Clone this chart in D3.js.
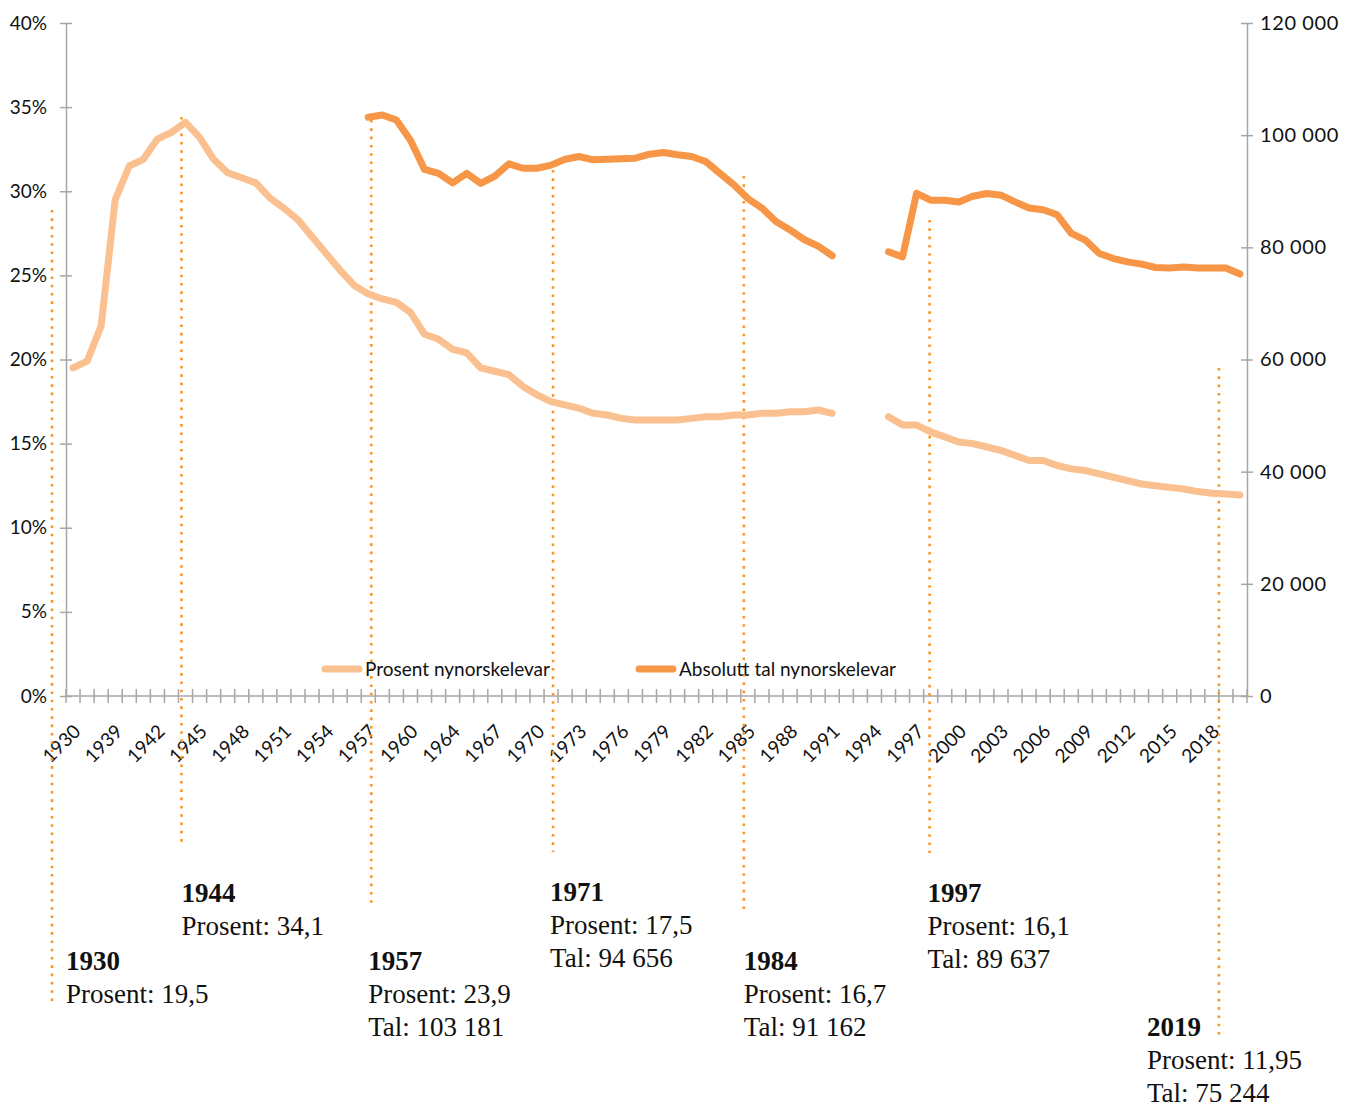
<!DOCTYPE html>
<html>
<head>
<meta charset="utf-8">
<script src="https://cdn.jsdelivr.net/npm/d3@7"></script>
<style>
  body { margin: 0; background: #fff; }
  .tick text { font-family: Lato, "Open Sans", sans-serif; }
</style>
</head>
<body>
<div class="chart"></div>
<script>
// categories on the x axis (only every 3rd is labelled)
var years = ["1930","1937","1938","1939","1940","1941","1942","1943","1944","1945",
  "1946","1947","1948","1949","1950","1951","1952","1953","1954","1955",
  "1956","1957","1958","1959","1960","1961","1963","1964","1965","1966",
  "1967","1968","1969","1970","1971","1972","1973","1974","1975","1976",
  "1977","1978","1979","1980","1981","1982","1983","1984","1985","1986",
  "1987","1988","1989","1990","1991","1992","1993","1994","1995","1996",
  "1997","1998","1999","2000","2001","2002","2003","2004","2005","2006",
  "2007","2008","2009","2010","2011","2012","2013","2014","2015","2016",
  "2017","2018","2019","2020"];

// Prosent nynorskelevar (%)
var prosent = [19.5,19.9,22.0,29.5,31.5,31.9,33.1,33.5,34.1,33.2,
  31.9,31.1,30.8,30.5,29.6,29.0,28.3,27.3,26.3,25.3,
  24.4,23.9,23.6,23.4,22.8,21.5,21.2,20.6,20.4,19.5,
  19.3,19.1,18.4,17.9,17.5,17.3,17.1,16.8,16.7,16.5,
  16.4,16.4,16.4,16.4,16.5,16.6,16.6,16.7,16.7,16.8,
  16.8,16.9,16.9,17.0,16.8,null,null,null,16.6,16.1,
  16.1,15.7,15.4,15.1,15.0,14.8,14.6,14.3,14.0,14.0,
  13.7,13.5,13.4,13.2,13.0,12.8,12.6,12.5,12.4,12.3,
  12.15,12.05,12.0,11.95];

// Absolutt tal nynorskelevar
var tal = [null,null,null,null,null,null,null,null,null,null,
  null,null,null,null,null,null,null,null,null,null,
  null,103181,103600,102700,99100,93900,93200,91500,93200,91400,
  92700,94900,94100,94100,94656,95700,96200,95600,95700,95800,
  95900,96600,96900,96500,96200,95300,93200,91162,88700,87000,
  84600,83100,81400,80200,78500,null,null,null,79200,78300,
  89637,88400,88400,88100,89100,89600,89300,88100,87000,86700,
  85800,82500,81300,78900,78000,77400,77000,76400,76300,76500,
  76300,76300,76300,75244];

var leftTicks = [0, 0.05, 0.10, 0.15, 0.20, 0.25, 0.30, 0.35, 0.40];
var rightTicks = [0, 20000, 40000, 60000, 80000, 100000, 120000];

// annotations below the chart
var annoYears = ["1930","1944","1957","1971","1984","1997","2019"];
var annoProsent = ["19,5","34,1","23,9","17,5","16,7","16,1","11,95"];
var annoTal = [null,null,"103 181","94 656","91 162","89 637","75 244"];

var W = 1356, H = 1111;
var plotLeft = 66, plotRight = 1247, plotTop = 23, plotBottom = 696;
var light = "#FBC08F", dark = "#F79646", dotCol = "#F7962B", axisCol = "#A6A6A6";

var svg = d3.select(".chart").append("svg")
  .attr("width", W).attr("height", H);

var x = d3.scaleBand().domain(years).range([plotLeft, plotRight]);
var yL = d3.scaleLinear().domain([0, 0.4]).range([plotBottom, plotTop]);
var yR = d3.scaleLinear().domain([0, 120000]).range([plotBottom, plotTop]);

function cx(yr) { return x(yr) + x.bandwidth() / 2; }

// left axis
var gL = svg.append("g").attr("transform", "translate(" + plotLeft + ",0)")
  .call(d3.axisLeft(yL).tickValues(leftTicks).tickFormat(d3.format(".0%")).tickSizeInner(6).tickSizeOuter(0).tickPadding(13));
// right axis
var fmtR = function(d) { return d3.format(",")(d).replace(/,/g, " "); };
var gR = svg.append("g").attr("transform", "translate(" + plotRight + ",0)")
  .call(d3.axisRight(yR).tickValues(rightTicks).tickFormat(fmtR).tickSizeInner(6).tickSizeOuter(0).tickPadding(7));

[gL, gR].forEach(function(g) {
  g.select(".domain").attr("stroke", axisCol).attr("stroke-width", 1.5);
  g.selectAll(".tick line").attr("stroke", axisCol).attr("stroke-width", 1.5)
    .attr("x1", -6).attr("x2", 6);
  g.selectAll(".tick text").attr("font-size", 19).attr("fill", "#111");
});
gR.selectAll(".tick text").attr("font-size", 20).attr("letter-spacing", 0.6);

// x axis with ticks between categories
var gX = svg.append("g");
gX.append("line").attr("x1", plotLeft).attr("x2", plotRight).attr("y1", plotBottom).attr("y2", plotBottom)
  .attr("stroke", axisCol).attr("stroke-width", 1.5);
var bounds = years.map(function(d) { return x(d); }).concat([plotRight]);
gX.selectAll(".xt").data(bounds).enter().append("line")
  .attr("x1", function(d) { return d; }).attr("x2", function(d) { return d; })
  .attr("y1", plotBottom - 7).attr("y2", plotBottom + 7)
  .attr("stroke", axisCol).attr("stroke-width", 1.5);
gX.selectAll(".xl").data(years.filter(function(d, i) { return i % 3 === 0; }))
  .enter().append("text")
  .attr("transform", function(d) { return "translate(" + (cx(d) + 4) + "," + (plotBottom + 32) + ") rotate(-45)"; })
  .attr("text-anchor", "end").attr("dy", "0.35em")
  .attr("font-family", "Lato, sans-serif").attr("font-size", 19).attr("fill", "#111")
  .text(function(d) { return d; });

// annotation layout: offset of line from category centre, line span, text offset and first baseline
var annoLayout = [
  {dx: -21, y1: 210, y2: 1005, tx: 14, ty: 970},
  {dx: -4, y1: 117, y2: 845, tx: 0, ty: 902},
  {dx: 3, y1: 120, y2: 908, tx: -3, ty: 970},
  {dx: 2, y1: 170, y2: 852, tx: -3, ty: 901},
  {dx: 10, y1: 176, y2: 910, tx: 0, ty: 970},
  {dx: 13, y1: 220, y2: 853, tx: -2, ty: 902},
  {dx: -7, y1: 368, y2: 1040, tx: -72, ty: 1036}
];

annoYears.forEach(function(yr, i) {
  var L = annoLayout[i];
  var lx = cx(yr) + L.dx;
  svg.append("line")
    .attr("x1", lx).attr("x2", lx).attr("y1", L.y1).attr("y2", L.y2)
    .attr("stroke", dotCol).attr("stroke-width", 2.6)
    .attr("stroke-dasharray", "2.6 5.7");
  var t = svg.append("text").attr("font-family", "'Liberation Serif', 'DejaVu Serif', serif")
    .attr("font-size", 27).attr("fill", "#111")
    .attr("x", lx + L.tx).attr("y", L.ty);
  t.append("tspan").attr("font-weight", "bold").text(yr);
  t.append("tspan").attr("x", lx + L.tx).attr("dy", 33).text("Prosent: " + annoProsent[i]);
  if (annoTal[i]) t.append("tspan").attr("x", lx + L.tx).attr("dy", 33).text("Tal: " + annoTal[i]);
});

// series lines
var lineL = d3.line()
  .defined(function(d) { return d != null; })
  .x(function(d, i) { return cx(years[i]); })
  .y(function(d) { return yL(d / 100); });
var lineR = d3.line()
  .defined(function(d) { return d != null; })
  .x(function(d, i) { return cx(years[i]); })
  .y(function(d) { return yR(d); });

svg.append("path").datum(prosent).attr("d", lineL)
  .attr("fill", "none").attr("stroke", light).attr("stroke-width", 7)
  .attr("stroke-linecap", "round").attr("stroke-linejoin", "round");
svg.append("path").datum(tal).attr("d", lineR)
  .attr("fill", "none").attr("stroke", dark).attr("stroke-width", 7)
  .attr("stroke-linecap", "round").attr("stroke-linejoin", "round");

// legend
var legend = [
  {name: "Prosent nynorskelevar", color: light, x: 325},
  {name: "Absolutt tal nynorskelevar", color: dark, x: 639}
];
var lg = svg.selectAll(".lg").data(legend).enter().append("g")
  .attr("transform", function(d) { return "translate(" + d.x + ",669)"; });
lg.append("line").attr("x1", 0).attr("x2", 34).attr("y1", 0).attr("y2", 0)
  .attr("stroke", function(d) { return d.color; }).attr("stroke-width", 7).attr("stroke-linecap", "round");
lg.append("text").attr("x", 40).attr("dy", "0.35em")
  .attr("font-family", "Lato, sans-serif").attr("font-size", 19).attr("fill", "#111")
  .text(function(d) { return d.name; });
</script>
</body>
</html>
